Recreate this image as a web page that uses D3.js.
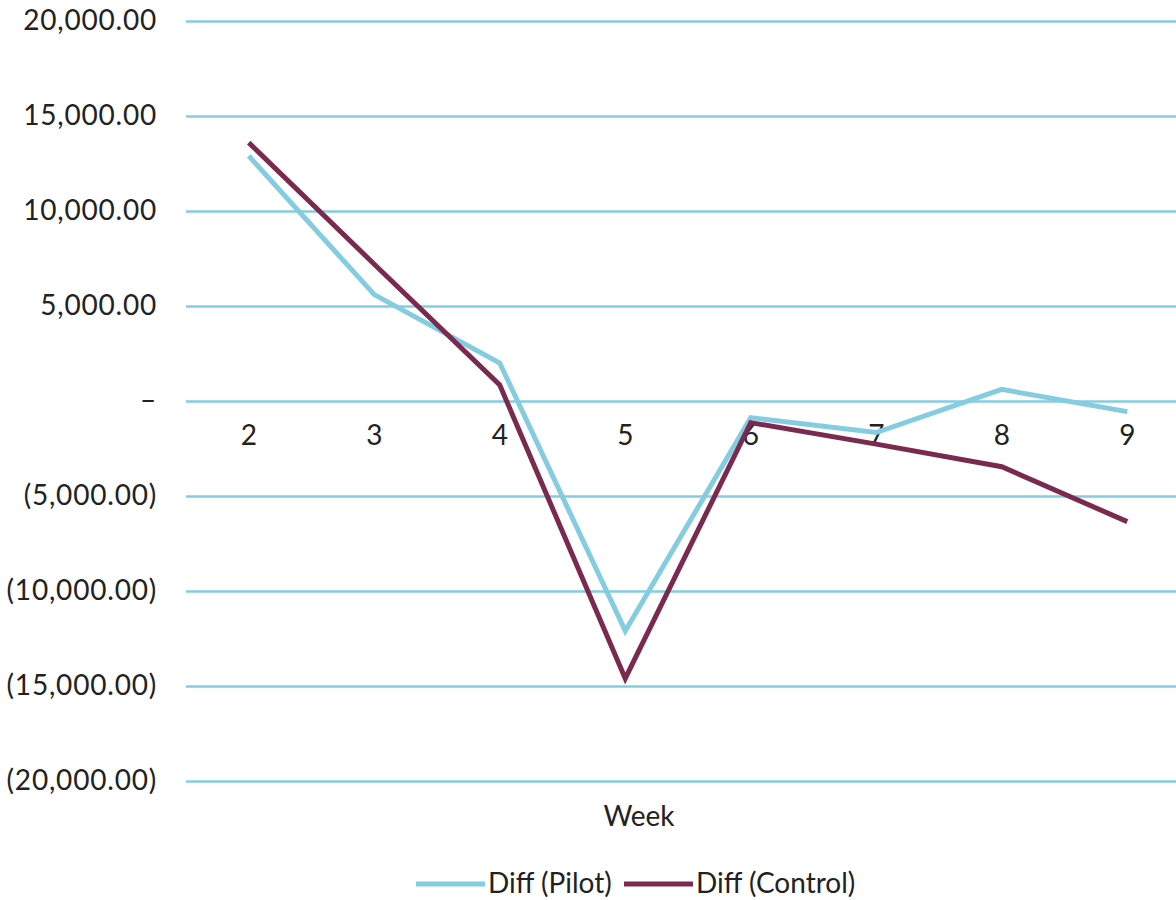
<!DOCTYPE html>
<html>
<head>
<meta charset="utf-8">
<script src="https://cdn.jsdelivr.net/npm/d3@7"></script>
<style>
  html, body { margin: 0; padding: 0; background: #fff; }
  svg { display: block; }
  text { font-family: Lato, "Open Sans", sans-serif; fill: #222; }
</style>
</head>
<body>
<svg id="chart" width="1176" height="900"></svg>
<script>
const weeks = ["2", "3", "4", "5", "6", "7", "8", "9"];
const pilot = [12900, 5600, 2000, -12100, -880, -1660, 610, -560];
const control = [13600, 7200, 840, -14600, -1140, -2270, -3460, -6350];
const yTicks = [20000, 15000, 10000, 5000, 0, -5000, -10000, -15000, -20000];
const seriesNames = ["Diff (Pilot)", "Diff (Control)"];
const colors = ["#84CCE0", "#7A2A4E"];

(function () {
const W = 1176, H = 900;
const mLeft = 186, mRight = 1190, mTop = 21, mBottom = 781;
const svg = d3.select("#chart");

const x = d3.scaleBand().domain(weeks).range([mLeft, mRight]);
const y = d3.scaleLinear().domain([-20000, 20000]).range([mBottom, mTop]);

const fmt = d3.format(",.2f");
const yFmt = v => v === 0 ? "\u2013" : (v < 0 ? "(" + fmt(-v) + ")" : fmt(v));

// gridlines
svg.append("g")
  .attr("transform", `translate(${mLeft},0)`)
  .call(d3.axisLeft(y).tickValues(yTicks).tickSize(-(W - mLeft)).tickFormat(""))
  .call(g => g.select(".domain").remove())
  .call(g => g.selectAll("line").attr("stroke", "#84CCE0").attr("stroke-width", 2.5));

// y axis labels
svg.append("g")
  .attr("transform", `translate(${mLeft},0)`)
  .call(d3.axisLeft(y).tickValues(yTicks).tickSize(0).tickPadding(29).tickFormat(yFmt))
  .call(g => g.select(".domain").remove())
  .call(g => g.selectAll("text")
    .style("font-size", "28px")
    .style("letter-spacing", "0.8px")
    .attr("fill", "#222"));

// x axis labels
svg.append("g")
  .attr("transform", `translate(0,${y(0)})`)
  .call(d3.axisBottom(x).tickSize(0).tickPadding(24))
  .call(g => g.select(".domain").remove())
  .call(g => g.selectAll("text")
    .style("font-size", "28px")
    .attr("fill", "#222"));

// lines
const line = d3.line()
  .x((d, i) => x(weeks[i]) + x.bandwidth() / 2)
  .y(d => y(d));

[pilot, control].forEach((s, k) => {
  svg.append("path")
    .datum(s)
    .attr("d", line)
    .attr("fill", "none")
    .attr("stroke", colors[k])
    .attr("stroke-width", 5)
    .attr("stroke-linejoin", "miter");
});

// axis title
svg.append("text")
  .attr("x", 639)
  .attr("y", 826)
  .attr("text-anchor", "middle")
  .style("font-size", "28px")
  .text("Week");

// legend
const legendItems = [
  { name: seriesNames[0], color: colors[0], x0: 416 },
  { name: seriesNames[1], color: colors[1], x0: 624 }
];
legendItems.forEach(it => {
  svg.append("line")
    .attr("x1", it.x0).attr("x2", it.x0 + 69)
    .attr("y1", 884).attr("y2", 884)
    .attr("stroke", it.color).attr("stroke-width", 5);
  svg.append("text")
    .attr("x", it.x0 + 72)
    .attr("y", 893)
    .style("font-size", "28px")
    .text(it.name);
});
})();
</script>
</body>
</html>
